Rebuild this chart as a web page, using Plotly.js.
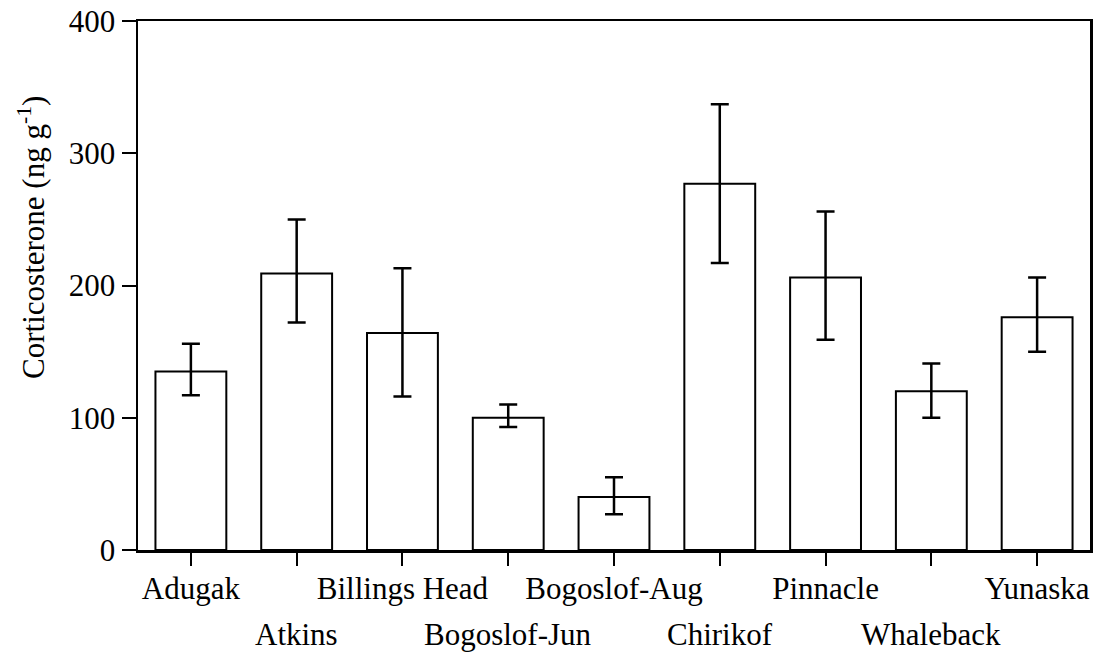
<!DOCTYPE html>
<html>
<head>
<meta charset="utf-8">
<script src="https://cdn.plot.ly/plotly-3.0.1.min.js"></script>
<style>html,body{margin:0;padding:0;background:#fff;}#chart{width:1094px;height:654px;}</style>
</head>
<body>
<div id="chart"></div>
<script>
const categories = ['Adugak','Atkins','Billings Head','Bogoslof-Jun','Bogoslof-Aug','Chirikof','Pinnacle','Whaleback','Yunaska'];
const means = [135, 209, 164, 100, 40, 277, 206, 120, 176];
const errPlus = [21, 41, 49, 10, 15, 60, 50, 21, 30];
const errMinus = [18, 37, 48, 7, 13, 60, 47, 20, 26];
const yTicks = [0, 100, 200, 300, 400];
const yTitle = 'Corticosterone (ng g<sup>-1</sup>)';

const font = 'Liberation Serif, Times New Roman, serif';
const idx = categories.map((c, i) => i);
const evenIdx = idx.filter(i => i % 2 === 0);
const oddIdx = idx.filter(i => i % 2 === 1);

const trace = {
  type: 'bar',
  x: idx,
  y: means,
  width: 0.67,
  marker: {color: '#ffffff', line: {color: '#000000', width: 2}},
  error_y: {type: 'data', symmetric: false, array: errPlus, arrayminus: errMinus,
            color: '#000000', thickness: 2.5, width: 9},
  hoverinfo: 'skip'
};

// row 1 labels on the axis (even categories), row 2 as annotations (odd categories)
const annotations = oddIdx.map(i => ({
  x: i, xref: 'x', y: 0, yref: 'paper', yanchor: 'top', xanchor: 'center',
  yshift: -65, text: categories[i], showarrow: false,
  font: {family: font, size: 31, color: '#000'}
}));
annotations.push({
  x: 0, xref: 'paper', xshift: -106, xanchor: 'center',
  y: 0.59, yref: 'paper', yanchor: 'middle',
  text: yTitle, textangle: -90, showarrow: false,
  font: {family: font, size: 31, color: '#000'}
});

const layout = {
  width: 1094, height: 654,
  margin: {l: 138, r: 4, t: 21, b: 104},
  paper_bgcolor: '#ffffff', plot_bgcolor: '#ffffff',
  showlegend: false,
  font: {family: font, color: '#000'},
  xaxis: {
    range: [-0.5, 8.5], tickmode: 'array', tickvals: evenIdx,
    ticktext: evenIdx.map(i => categories[i]),
    ticks: 'outside', ticklen: 13, tickwidth: 2, tickcolor: '#000',
    ticklabelstandoff: -4,
    minor: {tickmode: 'array', tickvals: oddIdx, ticks: 'outside', ticklen: 13,
            tickwidth: 2, tickcolor: '#000', showgrid: false},
    showline: true, linecolor: '#000', linewidth: 2.5, mirror: true,
    showgrid: false, zeroline: false,
    tickfont: {family: font, size: 31, color: '#000'}
  },
  yaxis: {
    range: [0, 400], tickmode: 'array', tickvals: yTicks,
    ticks: 'outside', ticklen: 14, tickwidth: 2, tickcolor: '#000',
    showline: true, linecolor: '#000', linewidth: 2.5, mirror: true,
    showgrid: false, zeroline: false,
    tickfont: {family: font, size: 31, color: '#000'}
  },
  annotations: annotations
};

Plotly.newPlot('chart', [trace], layout, {displayModeBar: false, staticPlot: true});
</script>
</body>
</html>
